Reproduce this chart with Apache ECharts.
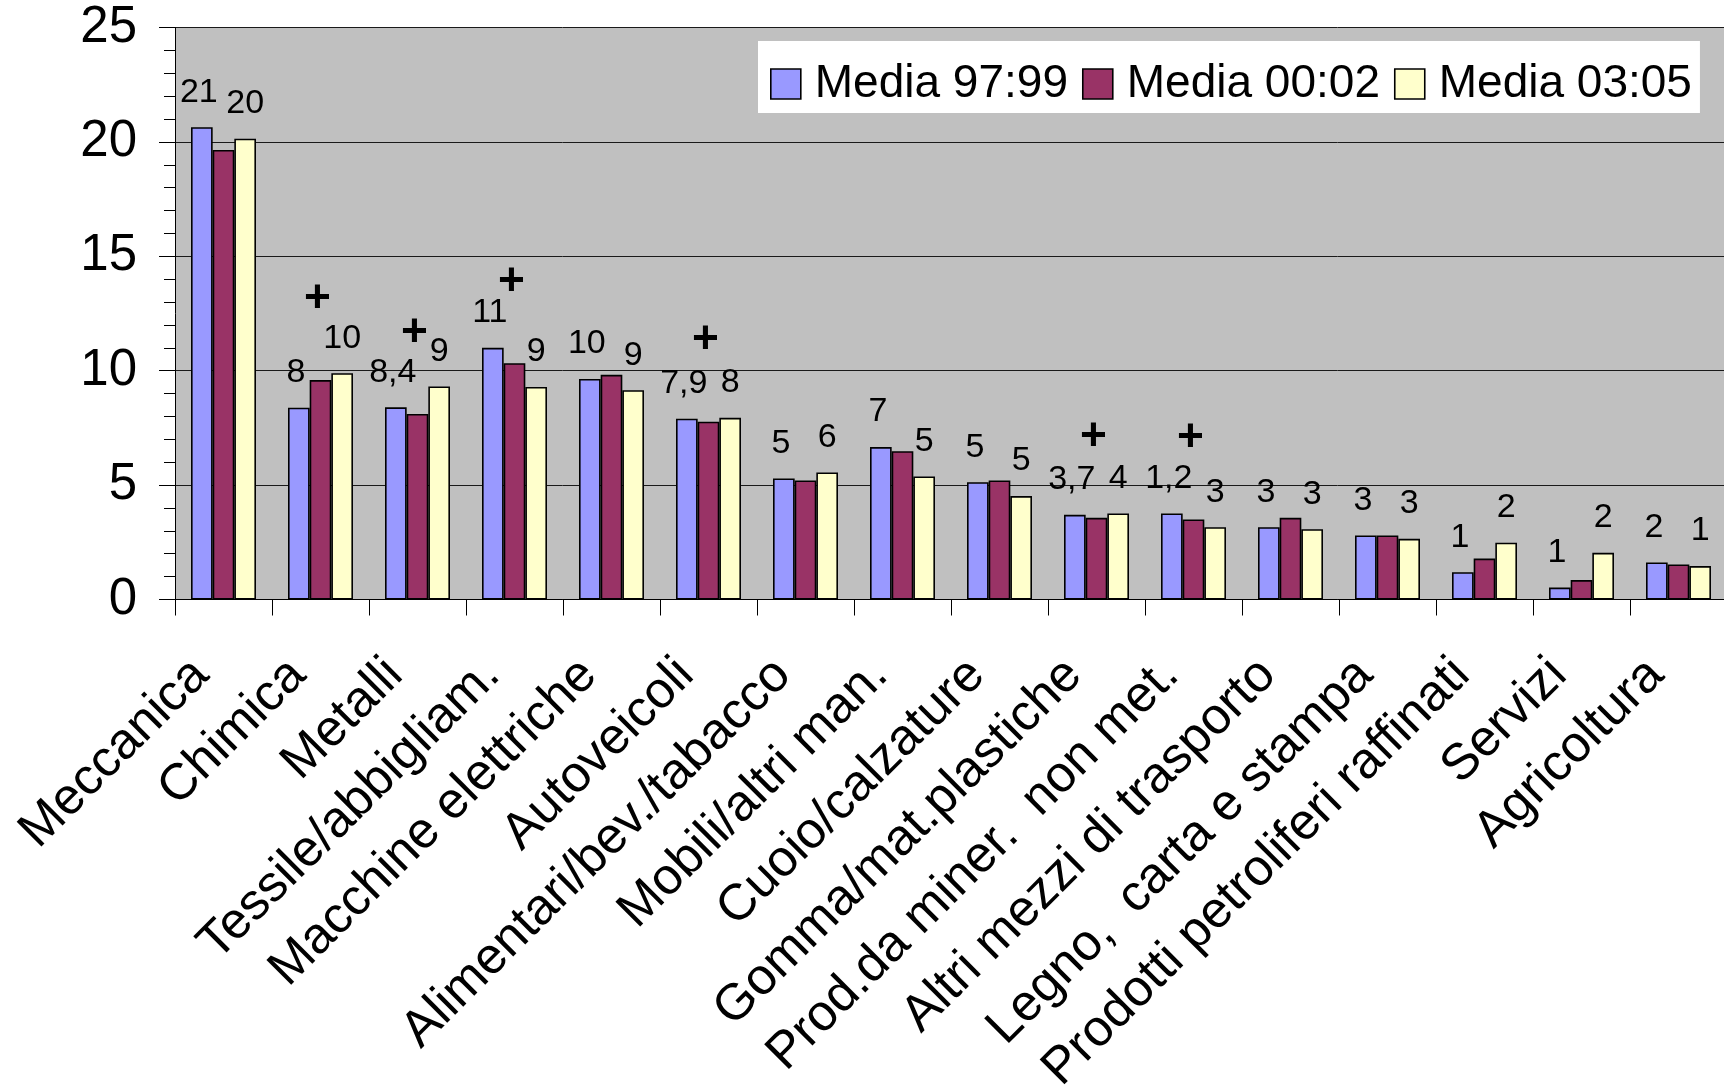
<!DOCTYPE html>
<html>
<head>
<meta charset="utf-8">
<script src="https://cdn.jsdelivr.net/npm/echarts/dist/echarts.min.js"></script>
<style>
  html, body { margin: 0; padding: 0; background: #ffffff; }
  #chart { width: 1724px; height: 1089px; }
</style>
</head>
<body>
<div id="chart"></div>
<script>
// Sector names on the category axis
const categories = [
  'Meccanica', 'Chimica', 'Metalli', 'Tessile/abbigliam.', 'Macchine elettriche',
  'Autoveicoli', 'Alimentari/bev./tabacco', 'Mobili/altri man.', 'Cuoio/calzature',
  'Gomma/mat.plastiche', 'Prod.da miner.  non met.', 'Altri mezzi di trasporto',
  'Legno,  carta e stampa', 'Prodotti petroliferi raffinati', 'Servizi', 'Agricoltura'
];

// Series names
const seriesNames = ['Media 97:99', 'Media 00:02', 'Media 03:05'];

// Values per period
const media9799 = [20.64, 8.38, 8.4, 11.0, 9.64, 7.9, 5.29, 6.66, 5.13, 3.7, 3.76, 3.16, 2.8, 1.19, 0.52, 1.62];
const media0002 = [19.65, 9.59, 8.11, 10.33, 9.82, 7.77, 5.2, 6.48, 5.2, 3.57, 3.5, 3.57, 2.8, 1.79, 0.85, 1.53];
const media0305 = [20.14, 9.89, 9.31, 9.29, 9.15, 7.94, 5.55, 5.38, 4.52, 3.76, 3.16, 3.07, 2.65, 2.48, 2.04, 1.46];

// Annotations written above the bars
const labels9799 = ['21', '8', '8,4', '11', '10', '7,9', '5', '7', '5', '3,7', '1,2', '3', '3', '1', '1', '2'];
const labels0305 = ['20', '10', '9', '9', '9', '8', '6', '5', '5', '4', '3', '3', '3', '2', '2', '1'];
const markers0002 = ['', '+', '+', '+', '', '+', '', '', '', '+', '+', '', '', '', '', ''];

// Value axis range
const yMin = 0, yMax = 25, yStep = 5;

const FONT = "'Liberation Sans', Arial, sans-serif";
const colors = ['#9999FF', '#993366', '#FFFFCC'];

const chart = echarts.init(document.getElementById('chart'), null, { renderer: 'canvas' });

const barBase = {
  type: 'bar',
  barGap: '0%',
  barCategoryGap: '33%'
};

chart.setOption({
  animation: false,
  backgroundColor: '#ffffff',
  textStyle: { fontFamily: FONT },
  grid: {
    left: 175, right: -3, top: 27.5, bottom: 489.5,
    containLabel: false,
    outerBoundsMode: 'none',
    show: true, backgroundColor: '#C0C0C0', borderWidth: 0
  },
  legend: {
    data: seriesNames,
    left: 758, top: 41,
    orient: 'horizontal',
    backgroundColor: '#ffffff',
    padding: [19, 8, 5, 12],
    itemWidth: 30, itemHeight: 30, itemGap: 14,
    icon: 'rect',
    itemStyle: { borderColor: '#000000', borderWidth: 1.6 },
    textStyle: { fontFamily: FONT, fontSize: 46, color: '#000000', lineHeight: 48, padding: [0, 0, 0, 9] }
  },
  xAxis: {
    type: 'category',
    data: categories,
    axisLine: { lineStyle: { color: '#000000', width: 1 } },
    axisTick: { show: true, length: 16, lineStyle: { color: '#000000', width: 1 } },
    axisLabel: {
      interval: 0, rotate: 45, margin: 45,
      fontFamily: FONT, fontSize: 51, color: '#000000',
      padding: [0, 32, 0, 0]
    },
    splitLine: { show: false }
  },
  yAxis: {
    type: 'value',
    min: yMin, max: yMax, interval: yStep,
    axisLine: { show: true, lineStyle: { color: '#000000', width: 1 } },
    axisTick: { show: true, length: 16, lineStyle: { color: '#000000', width: 1 } },
    minorTick: { show: true, splitNumber: 5, length: 11, lineStyle: { color: '#000000', width: 1 } },
    axisLabel: { margin: 38, fontFamily: FONT, fontSize: 51, color: '#000000' },
    splitLine: { show: true, lineStyle: { color: '#1a1a1a', width: 1 } }
  },
  series: [
    Object.assign({}, barBase, {
      name: seriesNames[0],
      data: media9799,
      itemStyle: { color: colors[0], borderColor: '#000000', borderWidth: 1.6 },
      label: {
        show: true, position: 'top', distance: 18, offset: [-3, 0],
        fontFamily: FONT, fontSize: 34, color: '#000000',
        formatter: p => labels9799[p.dataIndex]
      }
    }),
    Object.assign({}, barBase, {
      name: seriesNames[1],
      data: media0002,
      itemStyle: { color: colors[1], borderColor: '#000000', borderWidth: 1.6 },
      label: {
        show: true, position: 'top', distance: 58, offset: [-3, 0],
        fontFamily: FONT, fontSize: 46, fontWeight: 'bold', color: '#000000',
        formatter: p => markers0002[p.dataIndex]
      }
    }),
    Object.assign({}, barBase, {
      name: seriesNames[2],
      data: media0305,
      itemStyle: { color: colors[2], borderColor: '#000000', borderWidth: 1.6 },
      label: {
        show: true, position: 'top', distance: 18,
        fontFamily: FONT, fontSize: 34, color: '#000000',
        formatter: p => labels0305[p.dataIndex]
      }
    })
  ]
});
</script>
</body>
</html>
